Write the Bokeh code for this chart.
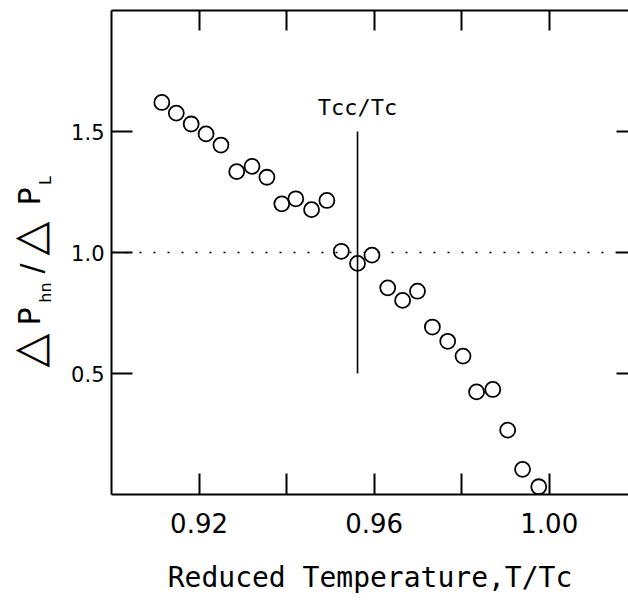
import numpy as np
from bokeh.plotting import figure
from bokeh.layouts import row
from bokeh.models import Range1d, LinearAxis, FixedTicker, Span
from bokeh.core.properties import value
from bokeh.embed import file_html
from bokeh.resources import INLINE

# ---- data ----
reduced_temp = [0.9115, 0.9148, 0.9182, 0.9216, 0.9250, 0.9286, 0.9321, 0.9355,
                0.9389, 0.9421, 0.9457, 0.9492, 0.9525, 0.9562, 0.9595, 0.9631,
                0.9665, 0.9699, 0.9733, 0.9768, 0.9803, 0.9834, 0.9871, 0.9905,
                0.9939, 0.9976]
dp_ratio = [1.620, 1.576, 1.531, 1.490, 1.444, 1.334, 1.356, 1.311,
            1.201, 1.222, 1.177, 1.215, 1.005, 0.955, 0.989, 0.854,
            0.802, 0.840, 0.692, 0.633, 0.572, 0.424, 0.434, 0.266,
            0.104, 0.032]
tcc_tc = 0.9562
tcc_line_y = [0.5, 1.5]
tcc_label_y = 1.60
ref_level = 1.0

x_ticks = [0.92, 0.94, 0.96, 0.98, 1.00]
x_tick_labels = ["0.92", "", "0.96", "", "1.00"]
y_ticks = [0.5, 1.0, 1.5]
y_tick_labels = ["0.5", "1.0", "1.5"]

# y-axis title pieces:  △P_hn / △P_L
ylab_main = ["\u25b3", "P", "/", "\u25b3", "P"]
ylab_sub = ["hn", "L"]

FONT = "DejaVu Sans"
MONO = "DejaVu Sans Mono"

LABEL_W = 60
H = 600
TOP = 10      # frame top (px from picture top)
BOTTOM = 106  # space under the frame
p = figure(width=628 - LABEL_W, height=H, output_backend="svg",
           toolbar_location=None,
           x_range=Range1d(0.90, 1.0181), y_range=Range1d(0.0, 2.0),
           x_axis_location=None, y_axis_location=None,
           min_border_left=111 - LABEL_W, min_border_right=0,
           min_border_top=TOP, min_border_bottom=BOTTOM)
p.outline_line_color = None
p.xgrid.visible = False
p.ygrid.visible = False
p.background_fill_color = "white"
p.border_fill_color = "white"


def style_axis(ax, ticks, tick_in=21):
    ax.ticker = FixedTicker(ticks=ticks)
    ax.major_tick_in = tick_in
    ax.major_tick_out = 0
    ax.minor_tick_line_color = None
    ax.axis_line_width = 2
    ax.major_tick_line_width = 2
    ax.axis_line_color = "black"
    ax.major_tick_line_color = "black"
    ax.major_label_text_font = FONT
    ax.major_label_text_color = "black"


# bottom axis
xb = LinearAxis()
style_axis(xb, x_ticks)
xb.major_label_overrides = {t: l for t, l in zip(x_ticks, x_tick_labels)}
xb.major_label_text_font_size = "26px"
xb.major_label_standoff = 18
xb.axis_label = "Reduced Temperature,T/Tc"
xb.axis_label_text_font = MONO
xb.axis_label_text_font_size = "28px"
xb.axis_label_text_font_style = "normal"
xb.axis_label_text_color = "black"
xb.axis_label_standoff = 25
p.add_layout(xb, "below")

# top axis (ticks only)
xt = LinearAxis()
style_axis(xt, x_ticks, tick_in=20)
xt.major_label_text_font_size = "0px"
xt.major_label_standoff = 0
xt.major_label_overrides = {t: "" for t in x_ticks}
p.add_layout(xt, "above")

# left axis
yl = LinearAxis()
style_axis(yl, y_ticks)
yl.major_label_overrides = {t: l for t, l in zip(y_ticks, y_tick_labels)}
yl.major_label_text_font_size = "21px"
yl.major_label_standoff = 7
p.add_layout(yl, "left")

# right axis (ticks only, its border lies beyond the crop)
yr = LinearAxis()
style_axis(yr, y_ticks, tick_in=12)
yr.axis_line_color = None
yr.major_label_text_font_size = "0px"
yr.major_label_standoff = 0
yr.major_label_overrides = {t: "" for t in y_ticks}
p.add_layout(yr, "right")

# reference level (dotted)
p.add_layout(Span(location=ref_level, dimension="width", line_color="black",
                  line_width=1.5, line_dash="2 12"))

# Tcc/Tc marker
p.line(x=[tcc_tc, tcc_tc], y=tcc_line_y, line_color="black", line_width=1.6)
p.text(x=[tcc_tc], y=[tcc_label_y], text=["Tcc/Tc"], text_align="center",
       text_baseline="middle", text_font=value(MONO), text_font_size="22px",
       text_color="black")

# data
p.scatter(x=reduced_temp, y=dp_ratio, marker="circle", size=15,
          fill_color=None, line_color="black", line_width=1.8)

# ---- narrow panel holding the rotated y-axis title (pixel coordinates) ----
# its frame is aligned with the main frame (TOP .. H-BOTTOM), so the range is
# chosen to make data units equal to pixels measured from the picture bottom
q = figure(width=LABEL_W, height=H, output_backend="svg", toolbar_location=None,
           x_range=Range1d(0, LABEL_W), y_range=Range1d(BOTTOM, H - TOP),
           x_axis_location=None, y_axis_location=None,
           min_border_left=0, min_border_right=0,
           min_border_top=TOP, min_border_bottom=BOTTOM)
q.outline_line_color = None
q.xgrid.visible = False
q.ygrid.visible = False
q.background_fill_color = "white"
q.border_fill_color = "white"

# positions measured from the top of the picture
main_x = [28, 29, 31, 28, 29]
main_top = [350, 316, 268, 238, 196]
main_fs = ["44px", "30px", "30px", "44px", "30px"]
sub_x = [45, 45]
sub_top = [292, 180]
ang = np.pi / 2
for t, xx, yy, fs in zip(ylab_main, main_x, main_top, main_fs):
    q.text(x=[xx], y=[H - yy], text=[t], angle=ang, text_align="center",
           text_baseline="middle", text_font=value(FONT), text_font_size=fs,
           text_color="black")
q.text(x=sub_x, y=[H - v for v in sub_top], text=ylab_sub, angle=ang,
       text_align="center", text_baseline="middle", text_font=value(FONT),
       text_font_size="16px", text_color="black")

layout = row(q, p)
open("out.html", "w").write(file_html(layout, INLINE))
